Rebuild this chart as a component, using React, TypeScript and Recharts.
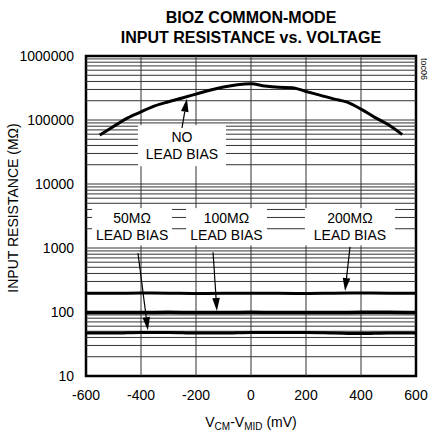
import { ComposedChart, Line, ReferenceArea, ReferenceLine, XAxis, YAxis } from 'recharts'

const FONT = '"Liberation Sans", Arial, Helvetica, sans-serif'
const INK = '#000'
const GRID = '#333'

// Axes
const X_TICKS = [-600, -400, -200, 0, 200, 400, 600]
const Y_TICKS = [10, 100, 1000, 10000, 100000, 1000000]
const V_GRID = [-400, -200, 0, 200, 400]
const DECADES = [10, 100, 1000, 10000, 100000]
const MULTIPLES = [1, 2, 3, 4, 5, 6, 7, 8, 9]

// No lead bias curve (mV -> MΩ)
const NO_BIAS_MV = [
  -550, -500, -450, -400, -350, -300, -250, -200, -150, -100, -50, 0, 50, 100, 150, 200, 250, 300,
  350, 400, 450, 500, 550,
]
const NO_BIAS_MOHM = [
  58000, 79000, 107000, 134000, 166000, 193000, 221000, 254000, 292000, 327000, 355000, 367000,
  339000, 324000, 320000, 279000, 245000, 214000, 190000, 148000, 110000, 84000, 59000,
]

// Lead bias curves, flat across the range
const LEAD_MV = [-600, -500, -400, -300, -200, -100, 0, 100, 200, 300, 400, 500, 600]
const LEAD_200 = [196, 196, 198, 197, 195, 196, 197, 196, 195, 197, 198, 197, 196]
const LEAD_100 = [98, 98, 98, 99, 98, 98, 99, 98, 98, 98, 99, 99, 98]
const LEAD_50 = [47, 47, 48, 48, 47, 47, 48, 48, 48, 47, 46, 47, 47]

// Annotation boxes (white panels that hide the grid behind the text)
const NOTE_NO = { x1: -411, x2: -91, y1: 19000, y2: 83000, lines: ['NO', 'LEAD BIAS'] }
const NOTE_50 = { x1: -578, x2: -287, y1: 1100, y2: 4200, lines: ['50MΩ', 'LEAD BIAS'] }
const NOTE_100 = { x1: -236, x2: 58, y1: 1100, y2: 4200, lines: ['100MΩ', 'LEAD BIAS'] }
const NOTE_200 = { x1: 196, x2: 524, y1: 1100, y2: 4200, lines: ['200MΩ', 'LEAD BIAS'] }
const NOTES = [NOTE_NO, NOTE_50, NOTE_100, NOTE_200]

// Arrows: tail -> tip
const ARROWS = [
  { from: { x: -251, y: 75000 }, to: { x: -233, y: 215000 } },
  { from: { x: -411, y: 830 }, to: { x: -375, y: 52 } },
  { from: { x: -138, y: 860 }, to: { x: -124, y: 104 } },
  { from: { x: 360, y: 1040 }, to: { x: 342, y: 212 } },
]

const H_GRID = DECADES.flatMap((d) => MULTIPLES.map((m) => d * m)).filter((v) => v > 10)

const noBias = NO_BIAS_MV.map((mv, i) => ({ mv, r: NO_BIAS_MOHM[i] }))
const lead200 = LEAD_MV.map((mv, i) => ({ mv, r: LEAD_200[i] }))
const lead100 = LEAD_MV.map((mv, i) => ({ mv, r: LEAD_100[i] }))
const lead50 = LEAD_MV.map((mv, i) => ({ mv, r: LEAD_50[i] }))

const TICK = { fill: INK, fontSize: 14, fontFamily: FONT }

function Arrow(props: any) {
  const { x1, y1, x2, y2 } = props
  const dx = x2 - x1
  const dy = y2 - y1
  const len = Math.hypot(dx, dy) || 1
  const ux = dx / len
  const uy = dy / len
  const head = 13
  const half = 3.8
  const bx = x2 - ux * head
  const by = y2 - uy * head
  return (
    <g>
      <line x1={x1} y1={y1} x2={bx} y2={by} stroke={INK} strokeWidth={1.2} />
      <polygon
        points={`${x2},${y2} ${bx - uy * half},${by + ux * half} ${bx + uy * half},${by - ux * half}`}
        fill={INK}
      />
    </g>
  )
}

// Segment shape used as a white panel: corners come from the scaled segment ends.
function noteBox(lines: string[]) {
  return (p: any) => {
    const { x1, y1, x2, y2 } = p
    const x = Math.min(x1, x2)
    const y = Math.min(y1, y2)
    const w = Math.abs(x2 - x1)
    const h = Math.abs(y2 - y1)
    const cx = x + w / 2
    const cy = y + h / 2
    const step = 17
    return (
      <g>
        <rect x={x} y={y} width={w} height={h} fill="#fff" />
        {lines.map((t, i) => (
          <text
            key={t}
            x={cx}
            y={cy + (i - (lines.length - 1) / 2) * step}
            textAnchor="middle"
            dominantBaseline="central"
            fontSize={14}
            fontFamily={FONT}
            fill={INK}
          >
            {t}
          </text>
        ))}
      </g>
    )
  }
}

function YTitle(p: any) {
  const vb = p.viewBox
  if (!vb) return null
  const x = vb.x + 13
  const y = vb.y + vb.height / 2 - 8
  return (
    <text
      x={x}
      y={y}
      transform={`rotate(-90 ${x} ${y})`}
      textAnchor="middle"
      dominantBaseline="central"
      fontSize={14}
      fontFamily={FONT}
      fill={INK}
    >
      INPUT RESISTANCE (MΩ)
    </text>
  )
}

function XTitle(p: any) {
  const vb = p.viewBox
  if (!vb) return null
  return (
    <text
      x={vb.x + vb.width / 2}
      y={vb.y + 51}
      textAnchor="middle"
      fontSize={14}
      fontFamily={FONT}
      fill={INK}
    >
      <tspan>V</tspan>
      <tspan fontSize={10} dy={3}>CM</tspan>
      <tspan dy={-3}>-V</tspan>
      <tspan fontSize={10} dy={3}>MID</tspan>
      <tspan dy={-3}> (mV)</tspan>
    </text>
  )
}

export default function App() {
  return (
    <div
      style={{
        position: 'absolute',
        left: 0,
        top: 0,
        width: 433,
        height: 433,
        background: '#fff',
        fontFamily: FONT,
      }}
    >
      <div
        style={{
          position: 'absolute',
          left: 86,
          top: 8,
          width: 330,
          textAlign: 'center',
          fontWeight: 'bold',
          fontSize: 16,
          lineHeight: '20px',
          color: INK,
        }}
      >
        BIOZ COMMON-MODE
        <br />
        INPUT RESISTANCE vs. VOLTAGE
      </div>
      <div
        style={{
          position: 'absolute',
          left: 419,
          top: 58,
          writingMode: 'vertical-rl',
          fontSize: 9,
          color: INK,
        }}
      >
        toc06
      </div>
      <ComposedChart
        width={433}
        height={433}
        margin={{ top: 56, right: 17, left: 0, bottom: 0 }}
        style={{ position: 'absolute', left: 0, top: 0 }}
      >
        <XAxis
          type="number"
          dataKey="mv"
          domain={[-600, 600]}
          ticks={X_TICKS}
          height={57}
          tick={TICK}
          tickLine={false}
          axisLine={false}
          tickMargin={8}
          label={{ content: XTitle }}
        />
        <YAxis
          type="number"
          dataKey="r"
          scale="log"
          domain={[10, 1000000]}
          allowDataOverflow
          ticks={Y_TICKS}
          width={86}
          tick={TICK}
          tickLine={false}
          axisLine={false}
          tickMargin={6}
          label={{ content: YTitle }}
        />
        {/* Log grid: one line per 1..9 multiple of each decade */}
        {H_GRID.map((v) => (
          <ReferenceLine key={`h${v}`} y={v} stroke={GRID} strokeWidth={1} />
        ))}
        {V_GRID.map((v) => (
          <ReferenceLine key={`v${v}`} x={v} stroke={GRID} strokeWidth={1} />
        ))}
        {NOTES.map((n) => (
          <ReferenceLine
            key={n.lines[0]}
            segment={[
              { x: n.x1, y: n.y2 },
              { x: n.x2, y: n.y1 },
            ]}
            shape={noteBox(n.lines)}
          />
        ))}
        <Line
          data={noBias}
          dataKey="r"
          type="monotone"
          stroke={INK}
          strokeWidth={3}
          dot={false}
          activeDot={false}
          isAnimationActive={false}
        />
        <Line
          data={lead200}
          dataKey="r"
          type="monotone"
          stroke={INK}
          strokeWidth={3}
          dot={false}
          activeDot={false}
          isAnimationActive={false}
        />
        <Line
          data={lead100}
          dataKey="r"
          type="monotone"
          stroke={INK}
          strokeWidth={3.5}
          dot={false}
          activeDot={false}
          isAnimationActive={false}
        />
        <Line
          data={lead50}
          dataKey="r"
          type="monotone"
          stroke={INK}
          strokeWidth={3}
          dot={false}
          activeDot={false}
          isAnimationActive={false}
        />
        {ARROWS.map((a, i) => (
          <ReferenceLine key={i} segment={[a.from, a.to]} shape={Arrow} />
        ))}
        {/* Heavy frame around the plot */}
        <ReferenceArea
          x1={-600}
          x2={600}
          y1={10}
          y2={1000000}
          fill="none"
          stroke={INK}
          strokeWidth={2.5}
        />
      </ComposedChart>
    </div>
  )
}
